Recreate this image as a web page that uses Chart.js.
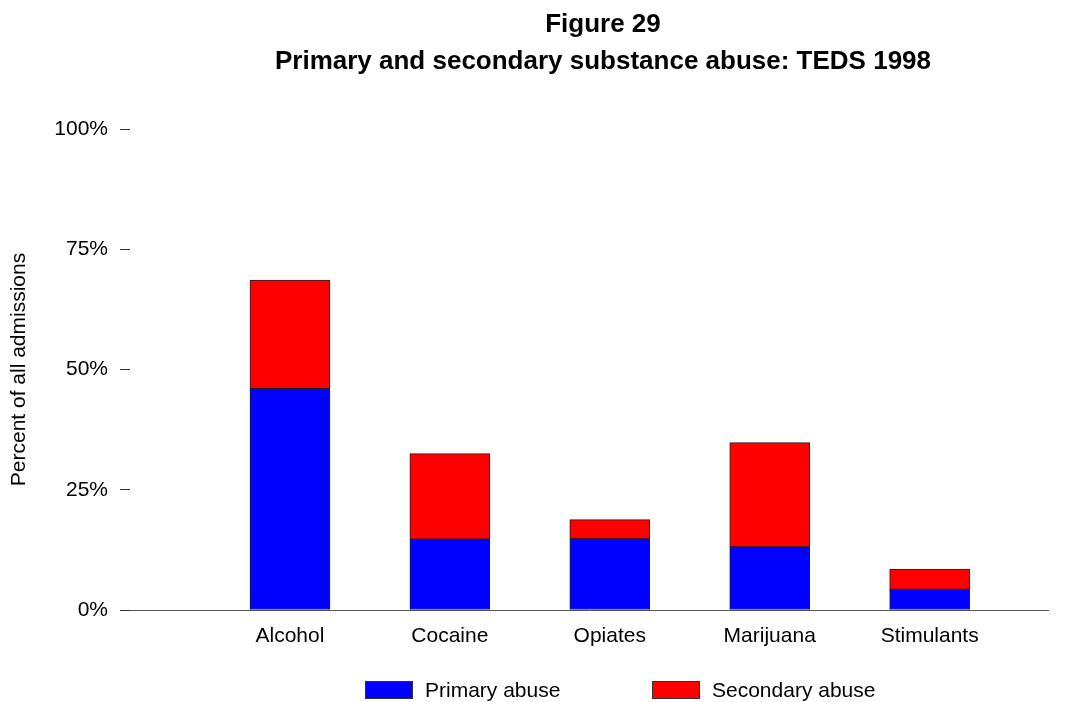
<!DOCTYPE html>
<html lang="en">
<head>
<meta charset="UTF-8">
<title>Figure 29</title>
<script src="https://cdn.jsdelivr.net/npm/chart.js"></script>
<style>
  body { margin: 0; background: #fff; font-family: Arial, "Liberation Sans", sans-serif; color: #000; }
  #wrap { position: relative; width: 1076px; height: 702px; }
  #chart { position: absolute; left: 0; top: 0; }
  .title { position: absolute; left: 103px; width: 1000px; text-align: center; font-weight: bold; font-size: 26px; line-height: 36px; white-space: nowrap; }
  .legend-item { position: absolute; top: 679px; height: 22px; font-size: 21px; line-height: 22px; display: flex; align-items: center; }
  .legend-box { width: 46px; height: 16px; border: 1px solid #333; margin-right: 12px; }
</style>
</head>
<body>
<div id="wrap">
  <canvas id="chart" width="1076" height="702"></canvas>
  <div class="title" style="top:5px;">Figure 29</div>
  <div class="title" style="top:42px;">Primary and secondary substance abuse: TEDS 1998</div>
  <div class="legend-item" style="left:365px;"><span class="legend-box" style="background:#0000ff"></span>Primary abuse</div>
  <div class="legend-item" style="left:652px;"><span class="legend-box" style="background:#ff0000"></span>Secondary abuse</div>
</div>

<script>
  // data (percent of all admissions)
  const categories = ['Alcohol', 'Cocaine', 'Opiates', 'Marijuana', 'Stimulants'];
  const primaryAbuse = [46.0, 14.7, 14.8, 13.1, 4.3];
  const secondaryAbuse = [22.6, 17.8, 4.0, 21.7, 4.2];
  const yTicks = [0, 25, 50, 75, 100];

  const font = { family: 'Arial, "Liberation Sans", sans-serif', size: 21 };

  function points(values) {
    return values.map((v, i) => ({ x: i + 1, y: v }));
  }

  new Chart(document.getElementById('chart'), {
    type: 'bar',
    data: {
      datasets: [
        {
          label: 'Primary abuse',
          data: points(primaryAbuse),
          backgroundColor: '#0000ff',
          borderColor: '#222',
          borderWidth: 1,
          borderSkipped: false,
          barThickness: 80
        },
        {
          label: 'Secondary abuse',
          data: points(secondaryAbuse),
          backgroundColor: '#ff0000',
          borderColor: '#222',
          borderWidth: 1,
          borderSkipped: false,
          barThickness: 80
        }
      ]
    },
    options: {
      responsive: false,
      animation: false,
      layout: { padding: { top: 129, right: 28, bottom: 42, left: 0 } },
      plugins: {
        legend: { display: false },
        tooltip: { enabled: false }
      },
      scales: {
        x: {
          type: 'linear',
          stacked: true,
          offset: false,
          min: 0,
          max: 5.74,
          grid: { display: false, drawTicks: false },
          border: { display: true, color: '#555', width: 1 },
          ticks: {
            color: '#000',
            font: font,
            padding: 14,
            callback: v => categories[v - 1] || ''
          },
          afterBuildTicks: scale => {
            scale.ticks = categories.map((c, i) => ({ value: i + 1 }));
          },
          afterFit: scale => { scale.height = 50; }
        },
        y: {
          stacked: true,
          min: 0,
          max: 100,
          grid: { drawOnChartArea: false, drawTicks: true, tickLength: 10, color: '#333' },
          border: { display: false },
          ticks: {
            color: '#000',
            font: font,
            padding: 12,
            callback: v => v + '%'
          },
          afterBuildTicks: scale => {
            scale.ticks = yTicks.map(v => ({ value: v }));
          },
          title: {
            display: true,
            text: 'Percent of all admissions',
            color: '#000',
            font: font,
            padding: { top: 7, bottom: 0 }
          },
          afterFit: scale => { scale.width = 130; }
        }
      }
    }
  });
</script>
</body>
</html>
